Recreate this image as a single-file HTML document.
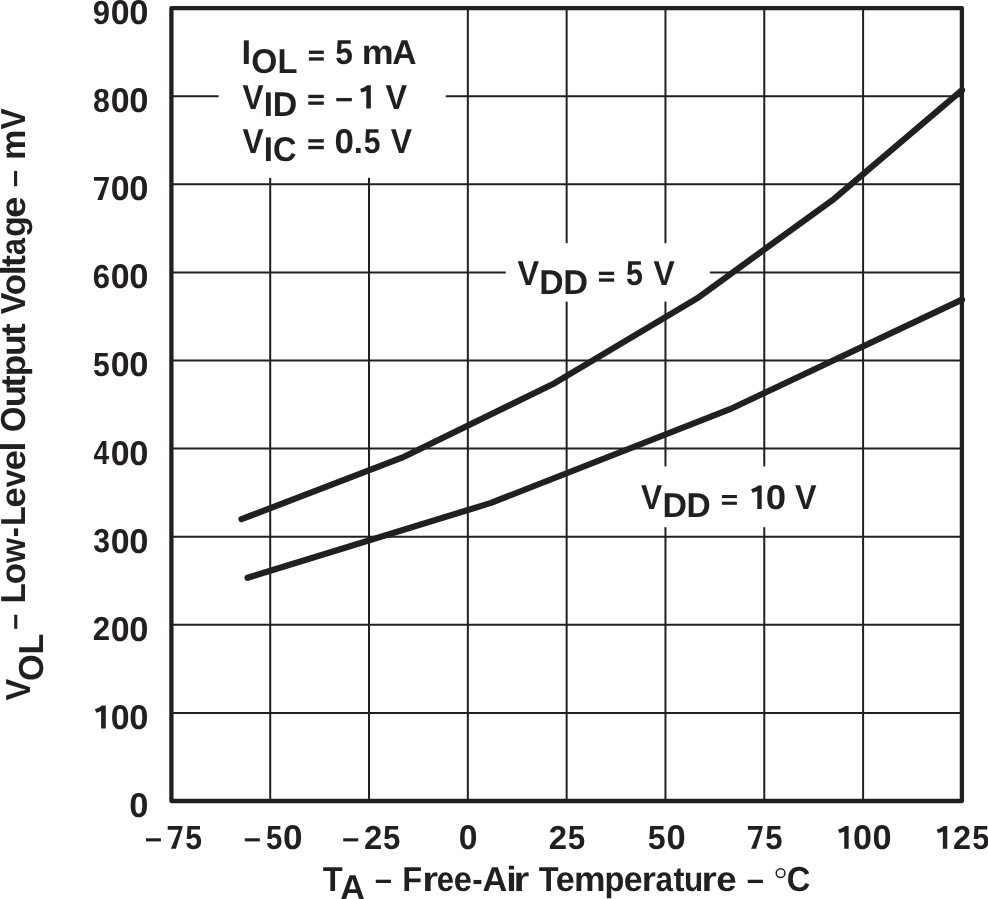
<!DOCTYPE html>
<html><head><meta charset="utf-8">
<style>
html,body{margin:0;padding:0;background:#fff;}
body{width:988px;height:899px;overflow:hidden;}
svg{display:block;will-change:transform;}
text{font-family:"Liberation Sans",sans-serif;font-weight:bold;font-kerning:none;text-rendering:geometricPrecision;}
</style></head>
<body>
<svg width="988" height="899" viewBox="0 0 988 899">
<rect x="0" y="0" width="988" height="899" fill="#fff"/>
<g stroke="#231f20" stroke-width="2" fill="none">
<path d="M270.21 8.1V801.0M369.02 8.1V801.0M467.84 8.1V801.0M566.65 8.1V801.0M665.46 8.1V801.0M764.27 8.1V801.0M863.09 8.1V801.0"/>
<path d="M171.4 96.20H961.9M171.4 184.30H961.9M171.4 272.40H961.9M171.4 360.50H961.9M171.4 448.60H961.9M171.4 536.70H961.9M171.4 624.80H961.9M171.4 712.90H961.9"/>
</g>
<g fill="#fff">
<rect x="218.6" y="10" width="227.1" height="167.8"/>
<rect x="505.8" y="243.2" width="204" height="58.4"/>
<rect x="630" y="466.4" width="200" height="60.8"/>
</g>
<g stroke="#231f20" stroke-width="6.2" fill="none" stroke-linecap="round" stroke-linejoin="round">
<polyline points="241.5,519.2 402,457.7 554.6,383.2 697,298.4 834,198.9 962,90.1"/>
<polyline points="247.5,577.8 491,502.9 730,409.2 962,299.6"/>
</g>
<rect x="171.4" y="8.1" width="790.50" height="792.90" fill="none" stroke="#231f20" stroke-width="4.3" stroke-linejoin="round"/>
<g fill="#231f20">
<text transform="translate(92.83 23.70) scale(0.930 1)" font-size="33.3">9</text>
<text transform="translate(110.86 24.04) scale(1.017 1.030)" font-size="33.3">0</text>
<text transform="translate(129.24 24.04) scale(1.036 1.030)" font-size="33.3">0</text>
<text transform="translate(92.94 111.80) scale(0.912 1)" font-size="33.3">8</text>
<text transform="translate(110.86 112.14) scale(1.017 1.030)" font-size="33.3">0</text>
<text transform="translate(129.24 112.14) scale(1.036 1.030)" font-size="33.3">0</text>
<path d="M94.00 177.10H108.90V178.71L102.30 199.90H97.30L105.10 180.82H94.00Z"/>
<text transform="translate(110.86 200.24) scale(1.017 1.030)" font-size="33.3">0</text>
<text transform="translate(129.24 200.24) scale(1.036 1.030)" font-size="33.3">0</text>
<text transform="translate(92.76 288.00) scale(0.932 1)" font-size="33.3">6</text>
<text transform="translate(110.86 288.34) scale(1.017 1.030)" font-size="33.3">0</text>
<text transform="translate(129.24 288.34) scale(1.036 1.030)" font-size="33.3">0</text>
<text transform="translate(92.97 376.10) scale(0.905 1)" font-size="33.3">5</text>
<text transform="translate(110.86 376.44) scale(1.017 1.030)" font-size="33.3">0</text>
<text transform="translate(129.24 376.44) scale(1.036 1.030)" font-size="33.3">0</text>
<text transform="translate(93.48 464.20) scale(0.841 1)" font-size="33.3">4</text>
<text transform="translate(110.86 464.54) scale(1.017 1.030)" font-size="33.3">0</text>
<text transform="translate(129.24 464.54) scale(1.036 1.030)" font-size="33.3">0</text>
<text transform="translate(93.21 552.30) scale(0.906 1)" font-size="33.3">3</text>
<text transform="translate(110.86 552.64) scale(1.017 1.030)" font-size="33.3">0</text>
<text transform="translate(129.24 552.64) scale(1.036 1.030)" font-size="33.3">0</text>
<text transform="translate(92.82 640.40) scale(0.936 1)" font-size="33.3">2</text>
<text transform="translate(110.86 640.74) scale(1.017 1.030)" font-size="33.3">0</text>
<text transform="translate(129.24 640.74) scale(1.036 1.030)" font-size="33.3">0</text>
<path d="M101.10 728.50H105.80V705.60H102.00C99.90 707.50 97.50 708.60 94.90 709.20L96.30 712.70C98.10 712.30 99.70 711.70 101.10 711.00Z"/>
<text transform="translate(110.86 728.84) scale(1.017 1.030)" font-size="33.3">0</text>
<text transform="translate(129.24 728.84) scale(1.036 1.030)" font-size="33.3">0</text>
<text transform="translate(129.24 816.94) scale(1.036 1.030)" font-size="33.3">0</text>
<path d="M167.70 826.00H182.50V827.60L175.90 848.70H170.90L178.70 829.70H167.70Z"/>
<text transform="translate(185.27 848.70) scale(0.905 1)" font-size="33.3">5</text>
<rect x="146.00" y="838.30" width="14.90" height="3.10"/>
<text transform="translate(266.00 848.70) scale(0.881 1)" font-size="33.3">5</text>
<text transform="translate(282.91 849.04) scale(1.054 1.030)" font-size="33.3">0</text>
<rect x="244.80" y="838.30" width="15.00" height="3.10"/>
<text transform="translate(364.06 848.70) scale(0.986 1)" font-size="33.3">2</text>
<text transform="translate(383.04 848.70) scale(0.935 1)" font-size="33.3">5</text>
<rect x="343.20" y="838.30" width="15.00" height="3.10"/>
<text transform="translate(458.67 849.04) scale(1.010 1.030)" font-size="33.3">0</text>
<text transform="translate(548.86 848.70) scale(0.986 1)" font-size="33.3">2</text>
<text transform="translate(567.84 848.70) scale(0.942 1)" font-size="33.3">5</text>
<text transform="translate(647.81 848.70) scale(0.966 1)" font-size="33.3">5</text>
<text transform="translate(666.44 849.04) scale(1.036 1.030)" font-size="33.3">0</text>
<path d="M747.90 826.00H762.70V827.60L756.10 848.70H751.10L758.90 829.70H747.90Z"/>
<text transform="translate(765.34 848.70) scale(0.935 1)" font-size="33.3">5</text>
<path d="M844.25 848.70H848.65V826.00H845.15C843.05 827.90 840.65 829.00 838.05 829.60L839.45 833.10C841.25 832.70 842.85 832.10 844.25 831.40Z"/>
<text transform="translate(852.95 849.04) scale(1.023 1.030)" font-size="33.3">0</text>
<text transform="translate(872.44 849.04) scale(1.029 1.030)" font-size="33.3">0</text>
<path d="M942.85 848.70H947.25V826.00H943.75C941.65 827.90 939.25 829.00 936.65 829.60L938.05 833.10C939.85 832.70 941.45 832.10 942.85 831.40Z"/>
<text transform="translate(952.88 848.70) scale(0.973 1)" font-size="33.3">2</text>
<text transform="translate(972.35 848.70) scale(0.923 1)" font-size="33.3">5</text>
<text transform="translate(241.58 64.30) scale(1.009 1)" font-size="34.4">I</text>
<text transform="translate(251.32 72.60) scale(0.975 1)" font-size="34.4">O</text>
<text transform="translate(277.51 72.60) scale(0.952 1)" font-size="34.4">L</text>
<rect x="308.90" y="50.60" width="14.90" height="3.30"/>
<rect x="308.90" y="57.30" width="14.90" height="3.30"/>
<text transform="translate(335.32 64.30) scale(0.923 1)" font-size="34.4">5</text>
<text transform="translate(361.64 64.30) scale(1.043 1)" font-size="34.4">m</text>
<text transform="translate(392.16 64.30) scale(0.979 1)" font-size="34.4">A</text>
<text transform="translate(242.38 108.50) scale(0.921 1)" font-size="34.4">V</text>
<text transform="translate(263.87 116.40) scale(0.969 1)" font-size="34.4">I</text>
<text transform="translate(272.63 116.40) scale(0.986 1)" font-size="34.4">D</text>
<rect x="308.30" y="94.80" width="15.50" height="3.30"/>
<rect x="308.30" y="101.50" width="15.50" height="3.30"/>
<rect x="336.30" y="98.00" width="15.50" height="3.30"/>
<path d="M366.30 108.50H370.85V85.30H367.20C365.10 87.20 362.70 88.30 360.10 88.90L361.50 92.40C363.30 92.00 364.90 91.40 366.30 90.70Z"/>
<text transform="translate(385.48 108.50) scale(0.939 1)" font-size="34.4">V</text>
<text transform="translate(242.38 152.90) scale(0.921 1)" font-size="34.4">V</text>
<text transform="translate(263.87 161.00) scale(0.969 1)" font-size="34.4">I</text>
<text transform="translate(273.06 161.00) scale(0.947 1)" font-size="34.4">C</text>
<rect x="308.30" y="139.20" width="15.50" height="3.30"/>
<rect x="308.30" y="145.90" width="15.50" height="3.30"/>
<text transform="translate(334.52 152.90) scale(1.015 1)" font-size="34.4">0</text>
<text transform="translate(353.64 152.90) scale(0.968 1)" font-size="34.4">.</text>
<text transform="translate(363.77 152.90) scale(0.876 1)" font-size="34.4">5</text>
<text transform="translate(390.78 152.90) scale(0.926 1)" font-size="34.4">V</text>
<text transform="translate(517.38 285.40) scale(0.943 1)" font-size="34.4">V</text>
<text transform="translate(539.14 294.00) scale(0.981 1)" font-size="34.4">D</text>
<text x="563.30" y="294.00" font-size="34.4">D</text>
<rect x="598.90" y="271.70" width="15.20" height="3.30"/>
<rect x="598.90" y="278.40" width="15.20" height="3.30"/>
<text transform="translate(625.96 285.40) scale(0.888 1)" font-size="34.4">5</text>
<text transform="translate(653.48 285.40) scale(0.926 1)" font-size="34.4">V</text>
<text transform="translate(640.88 508.90) scale(0.921 1)" font-size="34.4">V</text>
<text transform="translate(662.53 517.00) scale(0.986 1)" font-size="34.4">D</text>
<text transform="translate(686.55 517.00) scale(0.976 1)" font-size="34.4">D</text>
<rect x="721.90" y="495.00" width="15.00" height="3.10"/>
<rect x="721.90" y="501.70" width="15.00" height="3.10"/>
<path d="M757.30 508.90H761.70V485.60H758.20C756.10 487.50 753.70 488.60 751.10 489.20L752.50 492.70C754.30 492.30 755.90 491.70 757.30 491.00Z"/>
<text transform="translate(765.85 508.90) scale(1.064 1)" font-size="34.4">0</text>
<text transform="translate(794.98 508.90) scale(0.939 1)" font-size="34.4">V</text>
<text transform="translate(322.83 890.50) scale(0.940 1)" font-size="34.7">T</text>
<text transform="translate(402.32 890.50) scale(0.937 1)" font-size="34.7">F</text>
<text transform="translate(422.23 890.50) scale(1.169 1)" font-size="34.7">r</text>
<text transform="translate(436.79 890.50) scale(0.895 1)" font-size="34.7">e</text>
<text transform="translate(453.72 890.50) scale(0.943 1)" font-size="34.7">e</text>
<text transform="translate(472.18 890.50) scale(0.897 1)" font-size="34.7">-</text>
<text transform="translate(482.45 890.50) scale(0.988 1)" font-size="34.7">A</text>
<text transform="translate(506.35 890.50) scale(1.092 1)" font-size="34.7">i</text>
<text transform="translate(513.53 890.50) scale(1.169 1)" font-size="34.7">r</text>
<text transform="translate(538.84 890.50) scale(0.935 1)" font-size="34.7">T</text>
<text transform="translate(555.87 890.50) scale(0.985 1)" font-size="34.7">e</text>
<text transform="translate(573.96 890.50) scale(1.022 1)" font-size="34.7">m</text>
<text transform="translate(604.45 890.50) scale(0.938 1)" font-size="34.7">p</text>
<text transform="translate(623.67 890.50) scale(0.979 1)" font-size="34.7">e</text>
<text transform="translate(641.70 890.50) scale(1.048 1)" font-size="34.7">r</text>
<text transform="translate(655.38 890.50) scale(0.903 1)" font-size="34.7">a</text>
<text transform="translate(673.40 890.50) scale(0.953 1)" font-size="34.7">t</text>
<text transform="translate(683.95 890.50) scale(0.907 1)" font-size="34.7">u</text>
<text transform="translate(701.61 890.50) scale(1.132 1)" font-size="34.7">r</text>
<text transform="translate(716.36 890.50) scale(1.062 1)" font-size="34.7">e</text>
<text transform="translate(786.76 890.50) scale(0.939 1)" font-size="34.7">C</text>
<text transform="translate(340.25 898.50) scale(0.984 1)" font-size="34.7">A</text>
<rect x="375.80" y="879.70" width="15.20" height="3.30"/>
<rect x="747.70" y="879.75" width="15.20" height="3.30"/>
<circle cx="780.6" cy="873.1" r="4.4" fill="none" stroke="#231f20" stroke-width="1.5"/>
</g>
<g fill="#231f20" transform="rotate(-90)">
<text transform="translate(-603.43 25.10) scale(0.960 1)" font-size="34.7">L</text>
<text transform="translate(-584.49 25.10) scale(1.022 1)" font-size="34.7">o</text>
<text transform="translate(-562.91 25.10) scale(0.924 1)" font-size="34.7">w</text>
<text transform="translate(-537.28 25.10) scale(0.874 1)" font-size="34.7">-</text>
<text transform="translate(-525.95 25.10) scale(0.927 1)" font-size="34.7">L</text>
<text transform="translate(-507.84 25.10) scale(1.062 1)" font-size="34.7">e</text>
<text transform="translate(-487.53 25.10) scale(0.931 1)" font-size="34.7">v</text>
<text transform="translate(-470.54 25.10) scale(1.062 1)" font-size="34.7">e</text>
<text transform="translate(-451.39 25.10) scale(1.029 1)" font-size="34.7">l</text>
<text transform="translate(-431.94 25.10) scale(0.942 1)" font-size="34.7">O</text>
<text transform="translate(-407.37 25.10) scale(1.056 1)" font-size="34.7">u</text>
<text transform="translate(-387.86 25.10) scale(1.083 1)" font-size="34.7">t</text>
<text transform="translate(-376.33 25.10) scale(1.018 1)" font-size="34.7">p</text>
<text transform="translate(-356.00 25.10) scale(1.020 1)" font-size="34.7">u</text>
<text transform="translate(-335.96 25.10) scale(1.093 1)" font-size="34.7">t</text>
<text transform="translate(-314.32 25.10) scale(0.935 1)" font-size="34.7">V</text>
<text transform="translate(-295.49 25.10) scale(1.022 1)" font-size="34.7">o</text>
<text transform="translate(-275.19 25.10) scale(1.029 1)" font-size="34.7">l</text>
<text transform="translate(-267.04 25.10) scale(1.027 1)" font-size="34.7">t</text>
<text transform="translate(-255.31 25.10) scale(0.892 1)" font-size="34.7">a</text>
<text transform="translate(-236.90 25.10) scale(0.986 1)" font-size="34.7">g</text>
<text transform="translate(-218.01 25.10) scale(1.116 1)" font-size="34.7">e</text>
<text transform="translate(-159.73 25.10) scale(0.973 1)" font-size="34.7">m</text>
<text transform="translate(-129.52 25.10) scale(0.913 1)" font-size="34.7">V</text>
<text transform="translate(-700.42 30.10) scale(0.935 1)" font-size="34.7">V</text>
<text transform="translate(-681.10 42.60) scale(0.987 1)" font-size="34.7">O</text>
<text transform="translate(-654.57 42.60) scale(0.977 1)" font-size="34.7">L</text>
<rect x="-628.80" y="14.20" width="14.10" height="3.10"/>
<rect x="-186.20" y="14.05" width="15.30" height="3.10"/>
</g>
</svg>
</body></html>
